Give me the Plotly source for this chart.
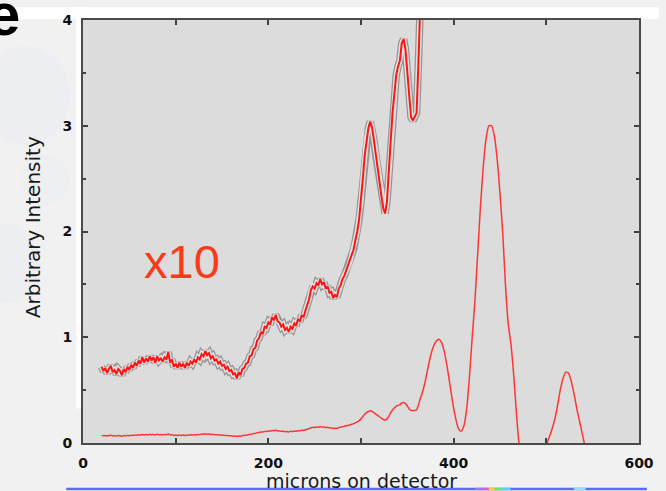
import plotly.graph_objects as go

# ---------------- data ----------------
# noisy low-x part, sampled every 2 microns (20 .. 366)
x_noisy = list(range(20, 368, 2))
intensity_noisy = [
    0.072, 0.068, 0.071, 0.066, 0.070, 0.073, 0.067, 0.069, 0.065, 0.070,
    0.068, 0.064, 0.070, 0.067, 0.072, 0.069, 0.074, 0.071, 0.076, 0.073,
    0.078, 0.075, 0.081, 0.076, 0.080, 0.077, 0.082, 0.078, 0.081, 0.076,
    0.082, 0.078, 0.080, 0.077, 0.081, 0.079, 0.086, 0.076, 0.079, 0.072,
    0.075, 0.071, 0.076, 0.072, 0.075, 0.071, 0.076, 0.073, 0.077, 0.075,
    0.079, 0.076, 0.081, 0.079, 0.084, 0.082, 0.087, 0.083, 0.085, 0.080,
    0.082, 0.078, 0.079, 0.075, 0.077, 0.073, 0.074, 0.070, 0.072, 0.068,
    0.069, 0.065, 0.066, 0.061, 0.067, 0.064, 0.070, 0.071, 0.075, 0.076,
    0.082, 0.083, 0.089, 0.090, 0.097, 0.099, 0.105, 0.103, 0.110, 0.109,
    0.114, 0.112, 0.119, 0.116, 0.121, 0.115, 0.114, 0.110, 0.112, 0.107,
    0.109, 0.105, 0.110, 0.108, 0.113, 0.111, 0.117, 0.115, 0.121, 0.119,
    0.125, 0.130, 0.136, 0.145, 0.148, 0.146, 0.151, 0.149, 0.155, 0.150,
    0.152, 0.146, 0.148, 0.142, 0.143, 0.137, 0.140, 0.138, 0.146, 0.149,
    0.155, 0.158, 0.163, 0.166, 0.171, 0.177, 0.183, 0.192, 0.200, 0.212,
    0.228, 0.250, 0.272, 0.288, 0.298, 0.304, 0.298, 0.286, 0.272, 0.262,
    0.248, 0.234, 0.222, 0.217, 0.228, 0.252, 0.285, 0.312, 0.330, 0.348,
    0.356, 0.362, 0.378, 0.382, 0.372, 0.350, 0.322, 0.308, 0.305, 0.308,
    0.312, 0.360, 0.420, 0.470,
]
# smooth high-x part
x_smooth = [369, 372, 375, 378, 381, 384, 387, 390, 393, 396,
            399, 402, 405, 408, 411, 414, 417, 420, 423, 426,
            429, 432, 435, 438, 441, 444, 447, 450, 453, 456,
            459, 462, 465, 468, 471, 476, 482, 487, 492, 497,
            501, 505, 509, 512, 515, 518, 521, 524, 527, 530,
            533, 536, 539, 542, 546]
intensity_smooth = [0.57, 0.70, 0.82, 0.91, 0.96, 0.98, 0.95, 0.86, 0.72, 0.55,
                    0.38, 0.24, 0.14, 0.11, 0.16, 0.32, 0.62, 1.00, 1.35, 1.80,
                    2.25, 2.62, 2.88, 3.00, 3.00, 2.90, 2.68, 2.36, 1.98, 1.48,
                    1.12, 0.92, 0.62, 0.25, -0.05, -0.32, -0.48, -0.52, -0.44, -0.24,
                    0.00, 0.10, 0.22, 0.35, 0.50, 0.61, 0.67, 0.66, 0.58, 0.46,
                    0.32, 0.20, 0.08, -0.04, -0.15]
zoom_factor = 10

x_all = x_noisy + x_smooth
intensity_all = intensity_noisy + intensity_smooth
intensity_x10 = [v * zoom_factor for v in intensity_noisy]

x_ticks = [0, 200, 400, 600]
x_minor = [100, 300, 500]
y_ticks = [0, 1, 2, 3, 4]
y_minor = [0.5, 1.5, 2.5, 3.5]

# ---------------- figure ----------------
fig = go.Figure()
fig.add_trace(go.Scatter(x=x_all, y=intensity_all, mode="lines",
                         line=dict(color="#ff3535", width=1.5, shape="spline", smoothing=0.6),
                         hoverinfo="skip", showlegend=False))
fig.add_trace(go.Scatter(x=x_noisy, y=intensity_x10, mode="lines",
                         line=dict(color="#959595", width=7.5),
                         hoverinfo="skip", showlegend=False))
fig.add_trace(go.Scatter(x=x_noisy, y=intensity_x10, mode="lines",
                         line=dict(color="#e2e2e2", width=5),
                         hoverinfo="skip", showlegend=False))
fig.add_trace(go.Scatter(x=x_noisy, y=intensity_x10, mode="lines",
                         line=dict(color="#ff1414", width=2),
                         hoverinfo="skip", showlegend=False))

tickfont = dict(family="DejaVu Sans", size=14, color="#111111", weight="bold")
axis_common = dict(showgrid=False, zeroline=False, showline=True, mirror="ticks",
                   linecolor="#4a4a4a", linewidth=2, ticks="inside",
                   tickcolor="#404040", tickwidth=1.5, tickfont=tickfont)

fig.update_xaxes(range=[0, 600], tickvals=x_ticks, ticklen=5, ticklabelstandoff=6,
                 minor=dict(tickvals=x_minor, ticks="inside", ticklen=5,
                            tickcolor="#404040", tickwidth=1.5),
                 **axis_common)
fig.update_yaxes(range=[0, 4], tickvals=y_ticks, ticklen=5, ticklabelstandoff=6,
                 minor=dict(tickvals=y_minor, ticks="inside", ticklen=3,
                            tickcolor="#404040", tickwidth=1.5),
                 **axis_common)

L, R, T, B = 83, 20, 13, 48
W, H = 666, 491
pw, ph = W - L - R, H - T - B


def px(xp):
    return (xp - L) / pw


def py(yp):
    return (H - B - yp) / ph


shapes = [
    # white strip at the very top and left of the frame
    dict(type="rect", xref="paper", yref="paper", x0=px(0), x1=px(W), y0=py(12), y1=py(0),
         fillcolor="#ffffff", line=dict(width=0), layer="below"),
    dict(type="rect", xref="paper", yref="paper", x0=px(76), x1=px(82), y0=py(408), y1=py(0),
         fillcolor="#ffffff", line=dict(width=0), layer="below"),
    # very faint background blobs
    dict(type="circle", xref="paper", yref="paper", x0=px(-20), x1=px(70), y0=py(140), y1=py(40),
         fillcolor="rgba(222,230,242,0.28)", line=dict(width=0), layer="below"),
    dict(type="circle", xref="paper", yref="paper", x0=px(-30), x1=px(40), y0=py(300), y1=py(220),
         fillcolor="rgba(222,230,242,0.28)", line=dict(width=0), layer="below"),
    dict(type="circle", xref="paper", yref="paper", x0=px(20), x1=px(70), y0=py(200), y1=py(150),
         fillcolor="rgba(225,232,242,0.22)", line=dict(width=0), layer="below"),
    # bottom blue bar
    dict(type="rect", xref="paper", yref="paper", x0=px(66), x1=px(654), y0=py(491), y1=py(488.5),
         fillcolor="#5b6cf0", line=dict(width=0), layer="above"),
]
rainbow = [(480, 488, "#9a7cf0"), (488, 494, "#e060d0"), (494, 500, "#f4d040"),
           (500, 507, "#70e070"), (507, 516, "#60d0f0"), (580, 592, "#9ad8f4")]
for a, b, c in rainbow:
    shapes.append(dict(type="rect", xref="paper", yref="paper", x0=px(a), x1=px(b),
                       y0=py(491), y1=py(488.5), fillcolor=c, line=dict(width=0), layer="above"))

annotations = [
    dict(text="x10", xref="paper", yref="paper", x=px(183), y=py(258),
         xanchor="center", yanchor="middle", showarrow=False,
         font=dict(family="Liberation Sans", size=47, color="#fb3a1a")),
    dict(text="microns on detector", xref="paper", yref="paper", x=0.5, y=py(481.5),
         xanchor="center", yanchor="middle", showarrow=False,
         font=dict(family="DejaVu Sans", size=19, color="#1a1a1a")),
    dict(text="Arbitrary Intensity", xref="paper", yref="paper", x=px(32), y=py(224),
         xanchor="center", yanchor="middle", showarrow=False, textangle=-90,
         font=dict(family="DejaVu Sans", size=20, color="#1a1a1a")),
    dict(text="e", xref="paper", yref="paper", x=px(21), y=py(43.7),
         xanchor="right", yanchor="bottom", showarrow=False,
         font=dict(family="Liberation Sans", size=60, color="#000000", weight="bold")),
]

fig.update_layout(width=W, height=H, autosize=False,
                  margin=dict(l=L, r=R, t=T, b=B, pad=0),
                  paper_bgcolor="#f1f1f1", plot_bgcolor="#dcdcdc",
                  shapes=shapes, annotations=annotations, showlegend=False)

fig.write_html("out.html")
